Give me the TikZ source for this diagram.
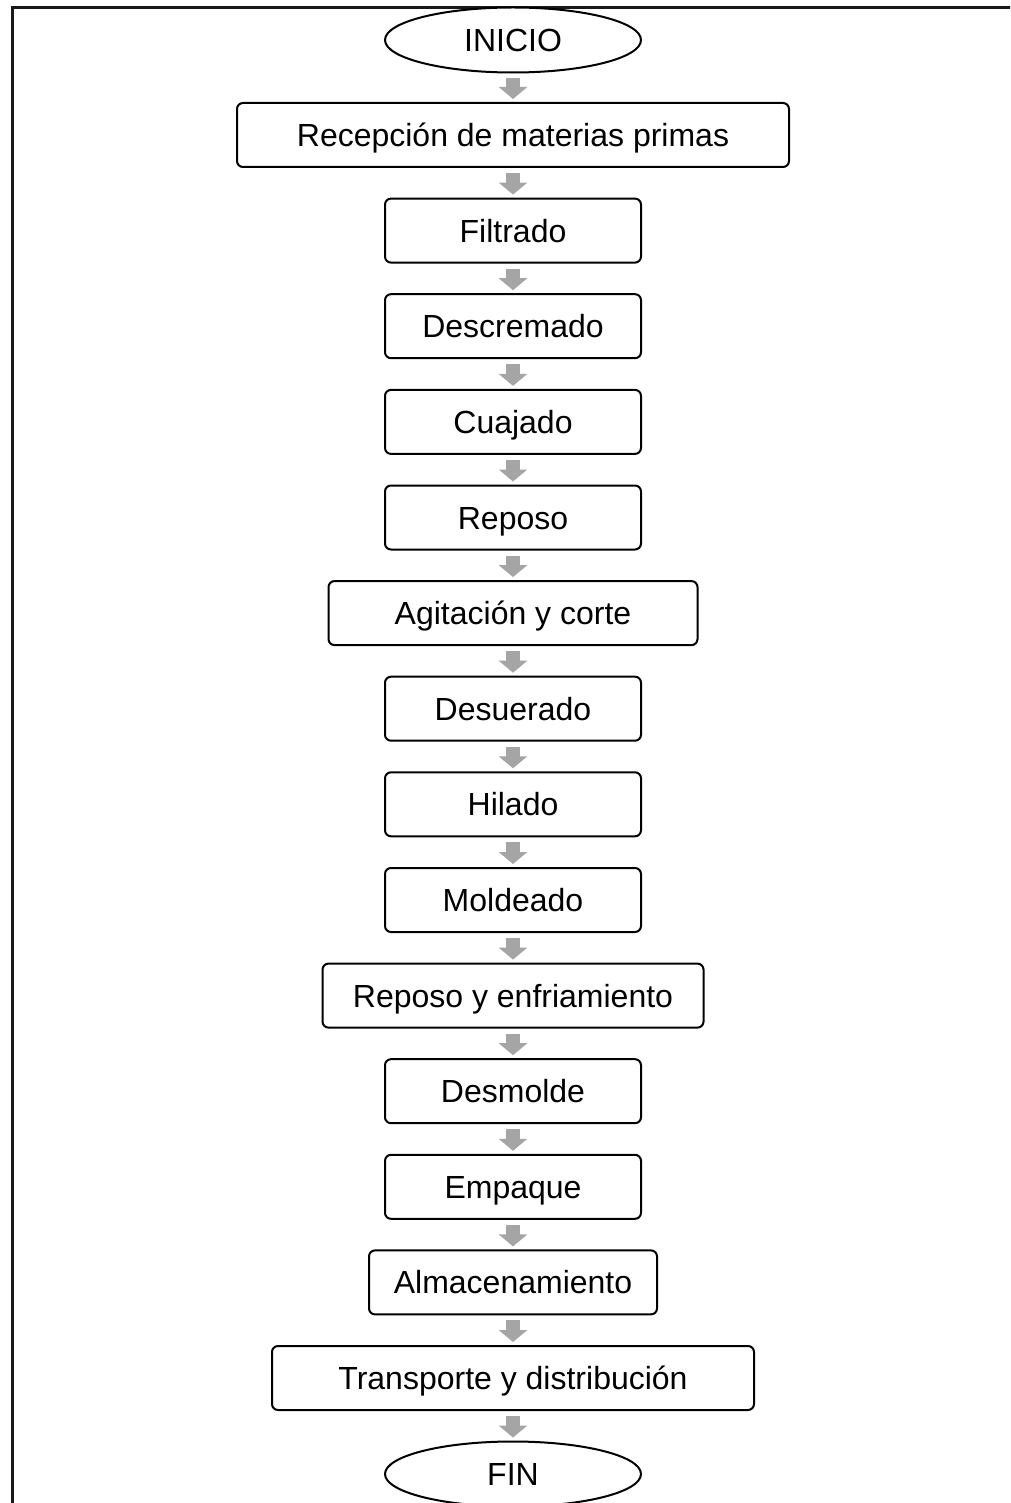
\documentclass[tikz,border=0pt]{standalone}
\usepackage{fontspec}
\setmainfont{Liberation Sans}
\usetikzlibrary{shapes.geometric,arrows.meta}
\definecolor{arrowgray}{RGB}{165,165,165}
\tikzset{
  label font/.style={font=\fontsize{32}{38}\selectfont, text height=23pt, text depth=0pt},
  stepbox/.style={draw, line width=2pt, rounded corners=6pt, minimum height=64pt,
    inner sep=0pt, label font},
  terminal/.style={draw, ellipse, line width=2pt, minimum width=256pt,
    minimum height=65pt, inner sep=0pt, fill=white, label font},
  flow/.style={arrowgray, line width=14pt, -{Triangle[width=28pt,length=12pt]},
    shorten <=5pt, shorten >=3pt},
  frameline/.style={line width=3pt, color=black!90}
}
\begin{document}
\begin{tikzpicture}[x=1pt, y=-1pt]
  \clip (0,0) rectangle (1010,1503);
  \fill[white] (0,0) rectangle (1010,1503);
  % page frame
  \draw[frameline] (12.5,1510) -- (12.5,8) -- (1015,8);

  % process steps
  \node[terminal] (inicio) at (513,40) {INICIO};
  \node[stepbox, minimum width=552pt] (recep) at (513,135) {Recepción de materias primas};
  \node[stepbox, minimum width=256pt] (filt) at (513,230.6) {Filtrado};
  \node[stepbox, minimum width=256pt] (descr) at (513,326.2) {Descremado};
  \node[stepbox, minimum width=256pt] (cuaj) at (513,421.9) {Cuajado};
  \node[stepbox, minimum width=256pt] (repo) at (513,517.5) {Reposo};
  \node[stepbox, minimum width=369pt] (agit) at (513,613.1) {Agitación y corte};
  \node[stepbox, minimum width=256pt] (desu) at (513,708.7) {Desuerado};
  \node[stepbox, minimum width=256pt] (hila) at (513,804.3) {Hilado};
  \node[stepbox, minimum width=256pt] (mold) at (513,900) {Moldeado};
  \node[stepbox, minimum width=381pt] (enfr) at (513,995.6) {Reposo y enfriamiento};
  \node[stepbox, minimum width=256pt] (desm) at (513,1091.2) {Desmolde};
  \node[stepbox, minimum width=256pt] (empa) at (513,1186.8) {Empaque};
  \node[stepbox, minimum width=288pt] (alma) at (513,1282.4) {Almacenamiento};
  \node[stepbox, minimum width=482pt] (trans) at (513,1378) {Transporte y distribución};
  \node[terminal] (fin) at (513,1474) {FIN};

  % connectors
  \foreach \a/\b in {inicio/recep, recep/filt, filt/descr, descr/cuaj, cuaj/repo,
      repo/agit, agit/desu, desu/hila, hila/mold, mold/enfr, enfr/desm,
      desm/empa, empa/alma, alma/trans, trans/fin}
    \draw[flow] (\a.south) -- (\b.north);
\end{tikzpicture}
\end{document}
